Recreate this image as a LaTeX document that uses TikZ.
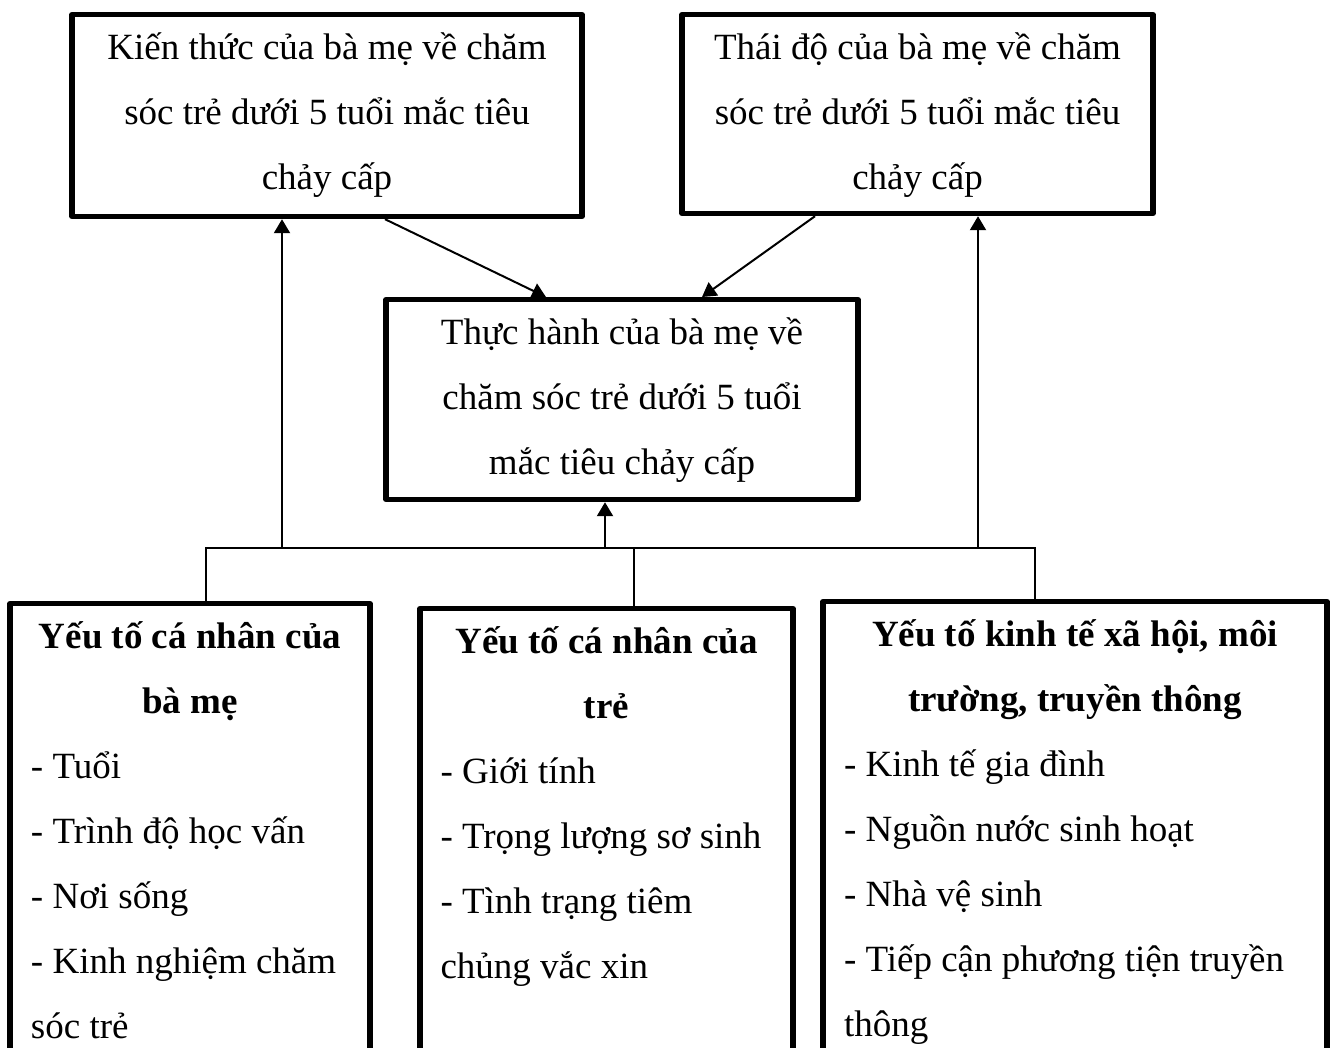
\documentclass[tikz,border=0pt]{standalone}
\usepackage{fontspec}
\setmainfont{Liberation Serif}
\usetikzlibrary{arrows.meta}
\tikzset{
  box/.style={draw, line width=2.6pt, line join=round, inner sep=0pt, anchor=north,
    font=\fontsize{18.5pt}{32.5pt}\selectfont},
  bus/.style={line width=0.8pt},
  arr/.style={line width=1pt, -{Triangle[length=7pt,width=8pt]}},
}
\newcommand{\bxt}[3]{\parbox[c][#2][t]{#1}{#3}}
\newcommand{\fl}{\rule{0pt}{22.5pt}}
\begin{document}
\begin{tikzpicture}[x=0.5pt,y=-0.5pt]
\useasboundingbox (0,0) rectangle (1333,1048);
\clip (0,0) rectangle (1333,1048);
% top boxes
\node[box, minimum width=255pt] (b1) at (327,12)
  {\bxt{234pt}{101pt}{\centering\fl Kiến thức của bà mẹ về chăm\\ sóc trẻ dưới 5 tuổi mắc tiêu\\ chảy cấp}};
\node[box, minimum width=235.5pt] (b2) at (917.5,12)
  {\bxt{214.5pt}{99.5pt}{\centering\fl Thái độ của bà mẹ về chăm\\ sóc trẻ dưới 5 tuổi mắc tiêu\\ chảy cấp}};
\node[box, minimum width=236pt] (b3) at (622,297)
  {\bxt{215pt}{100pt}{\centering\fl Thực hành của bà mẹ về\\ chăm sóc trẻ dưới 5 tuổi\\ mắc tiêu chảy cấp}};
% bottom boxes
\node[box, minimum width=180pt] (b4) at (190,601)
  {\bxt{159pt}{300pt}{{\centering\bfseries\fl Yếu tố cá nhân của\\ bà mẹ\par}\raggedright
   - Tuổi\\ - Trình độ học vấn\\ - Nơi sống\\ - Kinh nghiệm chăm\\ sóc trẻ}};
\node[box, minimum width=186.5pt] (b5) at (606.5,606)
  {\bxt{166pt}{300pt}{{\centering\bfseries\fl Yếu tố cá nhân của\\ trẻ\par}\raggedright
   - Giới tính\\ - Trọng lượng sơ sinh\\ - Tình trạng tiêm\\ chủng vắc xin}};
\node[box, minimum width=252pt] (b6) at (1075,599)
  {\bxt{231pt}{300pt}{{\centering\bfseries\fl Yếu tố kinh tế xã hội, môi\\ trường, truyền thông\par}\raggedright
   - Kinh tế gia đình\\ - Nguồn nước sinh hoạt\\ - Nhà vệ sinh\\ - Tiếp cận phương tiện truyền\\ thông}};
% bus
\coordinate (busL) at (206,548);
\coordinate (busR) at (1035,548);
\coordinate (j1) at (282,548);
\coordinate (j2) at (605,548);
\coordinate (j3) at (634,548);
\coordinate (j4) at (978,548);
\draw[bus] (busL |- b4.north) -- (busL) -- (busR) -- (busR |- b6.north);
\draw[bus] (j3) -- (j3 |- b5.north);
\draw[arr] (j1) -- (j1 |- b1.south);
\draw[arr] (j2) -- (j2 |- b3.south);
\draw[arr] (j4) -- (j4 |- b2.south);
% diagonals
\coordinate (d1) at (385,0);
\coordinate (d2) at (546,0);
\coordinate (d3) at (815,0);
\coordinate (d4) at (702,0);
\draw[arr] (b1.south -| d1) -- (b3.north -| d2);
\draw[arr] (b2.south -| d3) -- (b3.north -| d4);
\end{tikzpicture}
\end{document}
